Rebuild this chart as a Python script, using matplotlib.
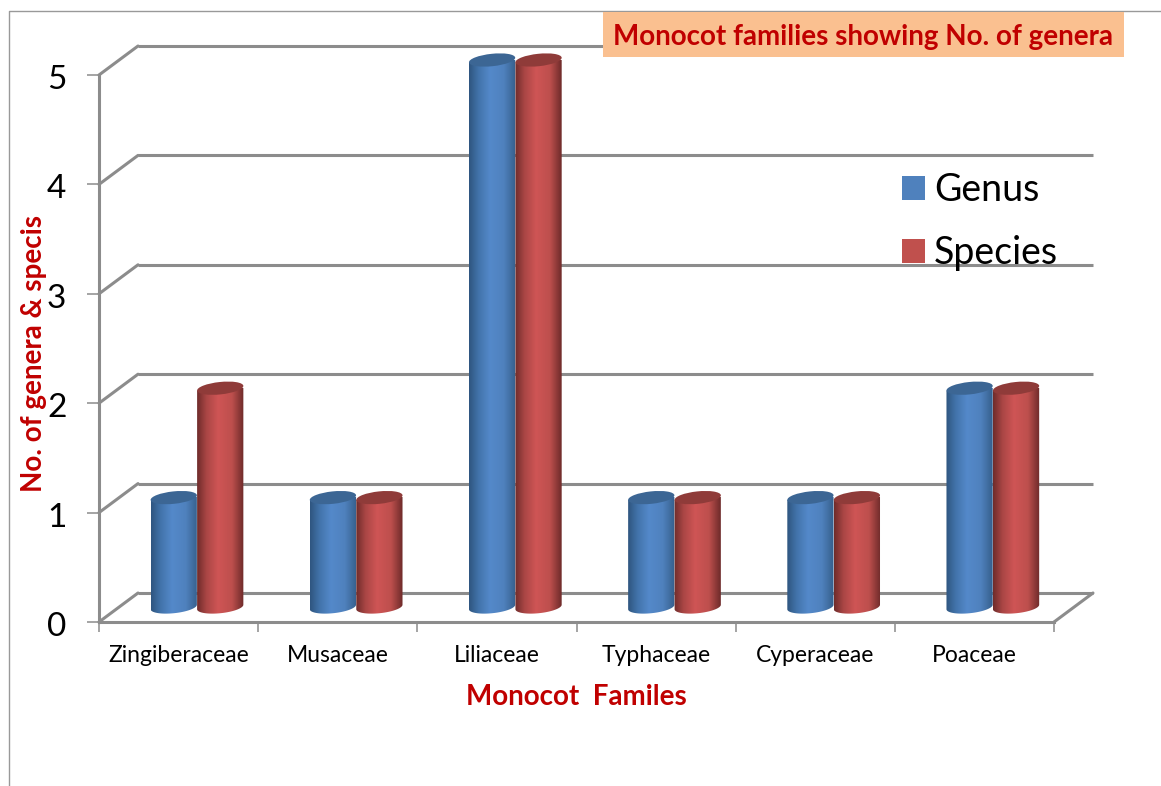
import numpy as np
import matplotlib
matplotlib.use("Agg")
import matplotlib.pyplot as plt
from matplotlib.colors import LinearSegmentedColormap
from matplotlib.lines import Line2D
from matplotlib.patches import ConnectionPatch, Ellipse, Patch, Rectangle
from matplotlib.path import Path
from matplotlib.transforms import Affine2D, IdentityTransform

# --- data ---
families = ["Zingiberaceae", "Musaceae", "Liliaceae", "Typhaceae", "Cyperaceae", "Poaceae"]
genus = [1, 1, 5, 1, 1, 2]
species = [2, 1, 5, 1, 1, 2]
y_ticks = [0, 1, 2, 3, 4, 5]

W, H = 1161, 786
GRAY = "#8c8c8c"
DARK_RED = "#c00000"
plt.rcParams["font.family"] = ["Lato", "DejaVu Sans"]

blue_map = LinearSegmentedColormap.from_list(
    "blue", [(0, "#2f5680"), (0.2, "#4273aa"), (0.45, "#5489ca"), (0.75, "#4f81bd"), (1, "#365f8c")])
red_map = LinearSegmentedColormap.from_list(
    "red", [(0, "#702c2b"), (0.2, "#aa4645"), (0.45, "#cf5555"), (0.75, "#bd4f4d"), (1, "#6e2b2a")])


def box(left, top, right, bottom):
    # pixel box of the picture -> figure fractions
    return [left / W, 1 - bottom / H, (right - left) / W, (bottom - top) / H]


fig = plt.figure(figsize=(W / 100, H / 100), dpi=100, facecolor="white")

# --- three planes of the fake 3d chart: front, bars, back wall ---
ax = fig.add_axes(box(99, 75, 1054, 622), zorder=1)
ax_back = fig.add_axes(box(138, 46, 1093, 593), zorder=2)
ax_bars = fig.add_axes(box(119, 60, 1074, 607), zorder=3)
for a in (ax, ax_back, ax_bars):
    a.set_xlim(0, len(families))
    a.set_ylim(0, 5)
    a.patch.set_visible(False)
ax_back.axis("off")
ax_bars.axis("off")

# --- front axes ---
ax.spines["top"].set_visible(False)
ax.spines["right"].set_visible(False)
ax.spines["left"].set_color(GRAY)
ax.spines["bottom"].set_color(GRAY)
ax.spines["left"].set_linewidth(2.2)
ax.spines["bottom"].set_linewidth(2.2)
ax.set_yticks(y_ticks)
ax.set_xticks(np.arange(len(families) + 1))
ax.set_xticklabels([])
ax.set_xticks(np.arange(len(families)) + 0.5, minor=True)
ax.set_xticklabels(families, minor=True, fontsize=16.5)
ax.tick_params(axis="x", which="major", length=7, width=1.1, color=GRAY)
ax.tick_params(axis="x", which="minor", length=0, pad=16.5)
ax.tick_params(axis="y", length=9, width=1.1, color=GRAY, labelsize=24, pad=13)
for lab in ax.get_yticklabels():
    lab.set_transform(lab.get_transform() + Affine2D().translate(-2, -2))
ax.set_xlabel("Monocot  Familes", fontsize=20, fontweight="bold", color=DARK_RED, labelpad=13)
ax.set_ylabel("No. of genera & specis", fontsize=20, fontweight="bold", color=DARK_RED)
ax.yaxis.set_label_coords(-0.054, 0.49)

# --- back wall grid and the slanted side lines ---
ax_back.hlines(y_ticks, 0, len(families), color=GRAY, lw=2.2, clip_on=False)
for v in y_ticks:
    fig.add_artist(ConnectionPatch((0, v), (0, v), coordsA=ax.transData, coordsB=ax_back.transData,
                                   color=GRAY, lw=2.2, zorder=1.5))
fig.add_artist(ConnectionPatch((len(families), 0), (len(families), 0), coordsA=ax.transData,
                               coordsB=ax_back.transData, color=GRAY, lw=2.2, zorder=1.5))


# --- cylinders ---
def cylinder(x, value, width, cmap, top_color, z):
    x0, y0 = ax_bars.transData.transform((x, 0))
    x1, y1 = ax_bars.transData.transform((x + width, value))
    cx = (x0 + x1) / 2
    rx = (x1 - x0) / 2
    ry = 6.2
    tilt = np.radians(6)
    t = np.linspace(np.pi, 2 * np.pi, 40)
    arc_x = cx + rx * np.cos(t) * np.cos(tilt) - ry * np.sin(t) * np.sin(tilt)
    arc_y = y0 + rx * np.cos(t) * np.sin(tilt) + ry * np.sin(t) * np.cos(tilt)
    outline = list(zip(arc_x, arc_y)) + [(arc_x[-1], arc_y[-1] + y1 - y0), (arc_x[0], arc_y[0] + y1 - y0)]
    img = ax_bars.imshow(np.linspace(0, 1, 96)[None, :], extent=(x, x + width, -0.1, value), aspect="auto",
                         cmap=cmap, zorder=z, interpolation="bilinear")
    img.set_clip_box(fig.bbox)
    img.set_clip_path(Path(outline + [outline[0]]), IdentityTransform())
    ax_bars.add_patch(Ellipse((cx, y1), 2 * rx, 2 * ry, angle=6, facecolor=top_color, edgecolor="none",
                              transform=IdentityTransform(), clip_on=False, zorder=z + 0.5))


bar_w = 0.292
z = 2
for i in range(len(families)):
    cylinder(i + 0.49 - bar_w, genus[i], bar_w, blue_map, "#3c6694", z)
    cylinder(i + 0.49, species[i], bar_w, red_map, "#8f3b39", z + 1)
    z += 2
ax_bars.set_xlim(0, len(families))
ax_bars.set_ylim(0, 5)

# --- legend ---
handles = [Patch(facecolor="#4f81bd", label="Genus"), Patch(facecolor="#c0504d", label="Species")]
leg = fig.legend(handles=handles, loc="upper left", bbox_to_anchor=(902 / W, 1 - 172 / H), frameon=False,
                 fontsize=27, handlelength=0.62, handleheight=0.62, handletextpad=0.24,
                 labelspacing=0.72, borderpad=0, borderaxespad=0)
leg.set_zorder(6)

# --- title box ---
fig.add_artist(Rectangle((603 / W, 1 - 57 / H), 521 / W, 45 / H, transform=fig.transFigure,
                         facecolor="#fac090", edgecolor="none", zorder=5))
fig.text(863 / W, 1 - 37 / H, "Monocot families showing No. of genera", fontsize=20, fontweight="bold",
         color=DARK_RED, ha="center", va="center", zorder=6)

# --- thin outer frame, only top and left ---
fig.add_artist(Line2D([9 / W, 9 / W, 1], [0, 1 - 11 / H, 1 - 11 / H], color="#999999", lw=1, zorder=0))

fig.savefig("out.png", dpi=100, facecolor="white")
